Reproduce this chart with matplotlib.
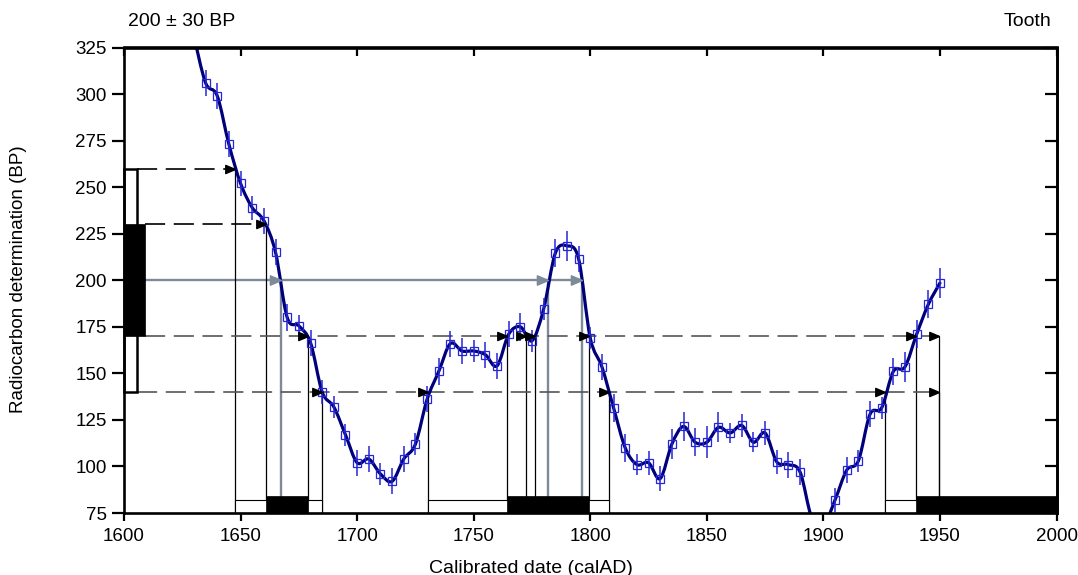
import numpy as np
import matplotlib
matplotlib.use("Agg")
import matplotlib.pyplot as plt
from matplotlib.patches import Rectangle, PathPatch
from matplotlib.path import Path

plt.rcParams['font.family'] = ['Liberation Sans', 'DejaVu Sans']

# ---------------- data ----------------
years = [1630, 1635, 1640, 1645, 1650, 1655, 1660, 1665, 1670, 1675,
         1680, 1685, 1690, 1695, 1700, 1705, 1710, 1715, 1720, 1725,
         1730, 1735, 1740, 1745, 1750, 1755, 1760, 1765, 1770, 1775,
         1780, 1785, 1790, 1795, 1800, 1805, 1810, 1815, 1820, 1825,
         1830, 1835, 1840, 1845, 1850, 1855, 1860, 1865, 1870, 1875,
         1880, 1885, 1890, 1895, 1900, 1905, 1910, 1915, 1920, 1925,
         1930, 1935, 1940, 1945, 1950]
bp = [331, 306, 299, 273, 252, 239, 232, 215, 180, 175.5,
      166.5, 140, 132, 117, 102, 104, 96, 92, 104, 112,
      136, 151, 166, 162, 162, 160, 154, 171, 175, 167.5,
      184.5, 214.5, 218.5, 211.5, 169, 153.5, 131.5, 110, 101, 102,
      93.5, 112, 121.5, 113, 113, 121, 118, 122, 113, 118,
      102.5, 101, 97, 72.5, 68, 82, 98, 103, 128, 131.5,
      151, 153.5, 171, 187, 198.5]
bp_err = [7, 7, 7, 7, 6.5, 6.5, 7, 7, 7.5, 6,
          7, 6.5, 6, 6, 7, 7, 6, 7, 7, 6,
          7, 7, 7, 7, 6, 7, 7, 7, 7.5, 6,
          6, 7.5, 8, 7, 6, 7, 7.5, 7.5, 5.5, 6.5,
          6.5, 8, 8, 7.5, 8.5, 8, 5.5, 6, 5.5, 6.5,
          6.5, 7, 7, 2.5, 6, 6.5, 7, 6, 7, 6,
          7.5, 8, 7.5, 7.5, 8]

sample_mean = 200
sample_sd = 30
sd1 = (170, 230)
sd2 = (140, 260)

# intercepts of each level with the calibration curve (calAD)
icpt_260 = [1647.7]
icpt_230 = [1661.0]
icpt_200 = [1667.2, 1782.0, 1796.5]
icpt_170 = [1678.8, 1764.3, 1772.4, 1776.2, 1799.6, 1939.6, 1949.5]
icpt_140 = [1684.8, 1730.2, 1808.0, 1926.6, 1949.5]

# calibrated ranges
range_2sd = [(1647.7, 1684.8), (1730.2, 1808.0), (1926.6, 2000)]
range_1sd = [(1661.0, 1678.8), (1764.3, 1799.6), (1939.6, 2000)]

x_ticks = [1600, 1650, 1700, 1750, 1800, 1850, 1900, 1950, 2000]
y_ticks = [75, 100, 125, 150, 175, 200, 225, 250, 275, 300, 325]

# ---------------- styles ----------------
NAVY = '#00007a'
BLUE = '#2626d9'
GRAY = '#7d8a98'
DGRAY = '#555555'

fig = plt.figure(figsize=(10.78, 5.75), dpi=100)
ax = fig.add_axes([124 / 1078, 1 - 513 / 575, (1056.5 - 124) / 1078, (513 - 47.5) / 575])
ax.set_xlim(1600, 2000)
ax.set_ylim(75, 325)

# calibration curve: smooth path through the points (Catmull-Rom as Bezier)
pts = np.column_stack([years, bp]).astype(float)
P = np.vstack([pts[0], pts, pts[-1]])
verts = [pts[0]]
codes = [Path.MOVETO]
for i in range(len(pts) - 1):
    p0, p1, p2, p3 = P[i], P[i + 1], P[i + 2], P[i + 3]
    verts += [p1 + (p2 - p0) / 6.0, p2 - (p3 - p1) / 6.0, p2]
    codes += [Path.CURVE4] * 3
ax.add_patch(PathPatch(Path(verts, codes), fill=False, edgecolor=NAVY,
                       lw=2.3, zorder=3, joinstyle='round', capstyle='round'))
ax.errorbar(years, bp, yerr=bp_err, fmt='none', ecolor=BLUE, elinewidth=1.1,
            capsize=0, zorder=4)
ax.plot(years, bp, 's', mfc='none', mec=BLUE, ms=5.2, mew=0.9, zorder=5)

# arrowhead marker with tip at origin
arrow_m = [(0, 0), (-1, 0.42), (-1, -0.42), (0, 0)]

box2_right = 1605.4
box1_right = 1609.0

# sample boxes on the y-axis
ax.add_patch(Rectangle((1600, sd2[0]), box2_right - 1600, sd2[1] - sd2[0],
                       facecolor='white', edgecolor='black', lw=1.8,
                       zorder=6, clip_on=False))
ax.add_patch(Rectangle((1600, sd1[0]), box1_right - 1600, sd1[1] - sd1[0],
                       facecolor='black', edgecolor='black', lw=0.5,
                       zorder=7, clip_on=False))

# mean line (gray)
ax.plot([box1_right, max(icpt_200)], [sample_mean] * 2, color=GRAY, lw=1.7, zorder=2)
ax.vlines(icpt_200, 75, sample_mean, color=GRAY, lw=1.7, zorder=2)
ax.plot(icpt_200, [sample_mean] * len(icpt_200), linestyle='none',
        marker=arrow_m, ms=16, color=GRAY, zorder=6)

# dashed level lines
levels = [(sd2[1], icpt_260, box2_right, 'black'),
          (sd1[1], icpt_230, box1_right, 'black'),
          (sd1[0], icpt_170, box1_right, DGRAY),
          (sd2[0], icpt_140, box2_right, DGRAY)]
lw_d = 1.2
for lev, icp, x0, col in levels:
    ax.plot([x0, max(icp)], [lev, lev], color=col, lw=lw_d,
            linestyle=(0, (14.5 / lw_d, 6.2 / lw_d)), zorder=2)
    ax.vlines(icp, 75, lev, color='black', lw=0.9, zorder=2)
    ax.plot(icp, [lev] * len(icp), linestyle='none', marker=arrow_m,
            ms=14, color='black', zorder=6)

# calibrated range bars
for a, b in range_2sd:
    ax.add_patch(Rectangle((a, 75), b - a, 7, facecolor='white',
                           edgecolor='black', lw=0.8, zorder=6, clip_on=False))
for a, b in range_1sd:
    ax.add_patch(Rectangle((a, 75), b - a, 9, facecolor='black',
                           edgecolor='black', lw=0.5, zorder=7, clip_on=False))

# axes styling
ax.set_xticks(x_ticks)
ax.set_yticks(y_ticks)
for s in ax.spines.values():
    s.set_linewidth(1.9)
    s.set_zorder(8)
ax.tick_params(axis='x', direction='out', length=6, width=1.6, labelsize=13.5, pad=5)
ax.tick_params(axis='y', direction='out', length=8.5, width=1.6, labelsize=13.5, pad=4)

secx = ax.secondary_xaxis('top')
secx.set_xticks(x_ticks)
secx.tick_params(direction='in', length=6.5, width=1.6, labeltop=False)
secx.spines['top'].set_linewidth(1.9)
secy = ax.secondary_yaxis('right')
secy.set_yticks(y_ticks)
secy.tick_params(direction='in', length=8.5, width=1.6, labelright=False)
secy.spines['right'].set_linewidth(1.9)

fig.text(531 / 1078, 1 - 573 / 575, 'Calibrated date (calAD)', ha='center',
         va='baseline', fontsize=14)
fig.text(19 / 1078, 1 - 279 / 575, 'Radiocarbon determination (BP)', rotation=90,
         ha='center', va='center', fontsize=13.5)
fig.text(128 / 1078, 1 - 21 / 575, '200 \u00b1 30 BP', ha='left', va='center', fontsize=14)
fig.text(1051 / 1078, 1 - 21 / 575, 'Tooth', ha='right', va='center', fontsize=14)

fig.savefig('out.png', dpi=100)
